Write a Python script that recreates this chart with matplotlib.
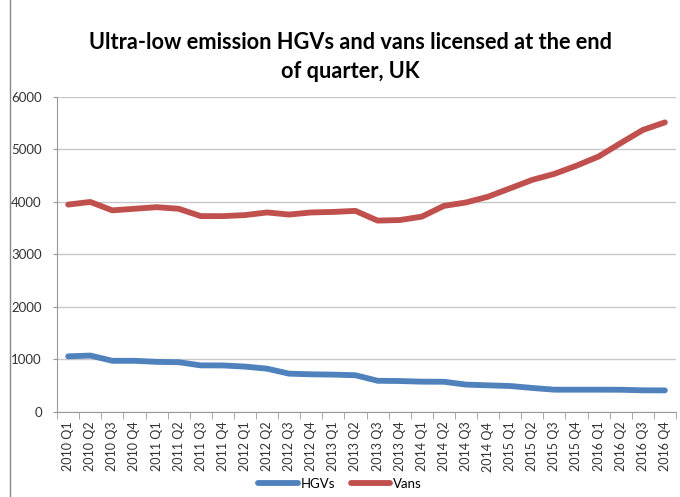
import matplotlib.pyplot as plt
from matplotlib.lines import Line2D

plt.rcParams['font.family'] = ['Lato', 'DejaVu Sans']

# Data
quarters = [f"{y} Q{q}" for y in range(2010, 2017) for q in range(1, 5)]
hgvs = [1060, 1075, 975, 975, 955, 948, 888, 887, 865, 825, 730, 718, 712, 700,
        595, 590, 578, 576, 522, 508, 495, 458, 425, 425, 425, 424, 413, 412]
vans = [3950, 4000, 3840, 3870, 3900, 3870, 3730, 3730, 3750, 3800, 3760, 3800,
        3810, 3830, 3645, 3655, 3720, 3925, 3990, 4100, 4260, 4420, 4535, 4690,
        4865, 5120, 5370, 5515]

fig = plt.figure(figsize=(6.8, 4.97), dpi=100)
ax = fig.add_axes([0.084, 0.171, 0.91, 0.634])

x = range(len(quarters))
ax.plot(x, hgvs, color='#4F81BD', lw=4.2, solid_capstyle='round', label='HGVs')
ax.plot(x, vans, color='#C0504D', lw=4.2, solid_capstyle='round', label='Vans')

ax.set_xlim(-0.5, len(quarters) - 0.5)
ax.set_ylim(0, 6000)
ax.set_yticks(range(0, 6001, 1000))
ax.yaxis.grid(True, color='#c8c8c8', lw=1)
ax.set_axisbelow(True)

ax.set_xticks(list(x))
ax.set_xticklabels(quarters, rotation=90, fontsize=9, color='#333333')
ax.set_xticks([i - 0.5 for i in range(len(quarters) + 1)], minor=True)
ax.tick_params(axis='x', which='major', length=0, pad=7)
ax.tick_params(axis='x', which='minor', length=5, color='#999999')
ax.tick_params(axis='y', length=3, color='#999999', labelsize=9.5, labelcolor='#333333', pad=8)

for s in ['top', 'right']:
    ax.spines[s].set_visible(False)
ax.spines['left'].set_color('#999999')
ax.spines['bottom'].set_color('#999999')

fig.text(0.515, 0.885, 'Ultra-low emission HGVs and vans licensed at the end\nof quarter, UK',
         ha='center', va='center', fontsize=15.7, fontweight='bold', linespacing=1.45)

fig.legend(loc='lower center', bbox_to_anchor=(0.5, -0.01), ncol=2, frameon=False,
           fontsize=9.5, handlelength=3, handletextpad=0.2, columnspacing=1.2)

# chart area border on the left
fig.add_artist(Line2D([10 / 680, 10 / 680], [0, 1], color='#888888', lw=1))

fig.savefig('out.png', dpi=100)
